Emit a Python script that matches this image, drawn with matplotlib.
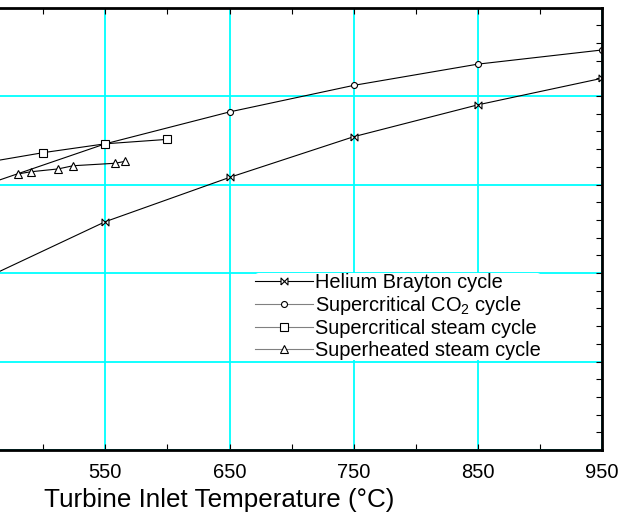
import matplotlib.pyplot as plt
from matplotlib.ticker import MultipleLocator, FixedLocator, FixedFormatter

plt.rcParams['font.family'] = ['Liberation Sans', 'DejaVu Sans']
plt.rcParams['mathtext.default'] = 'regular'

# turbine inlet temperature (C) and cycle efficiency (%)
he_T = [450, 550, 650, 750, 850, 950]
he_eff = [34.6, 37.9, 40.4, 42.7, 44.5, 46.0]

co2_T = [450, 550, 650, 750, 850, 950]
co2_eff = [39.9, 42.3, 44.1, 45.6, 46.8, 47.6]

sc_steam_T = [450, 500, 550, 600]
sc_steam_eff = [41.2, 41.8, 42.3, 42.55]

sh_steam_T = [480, 490, 512, 524, 558, 566]
sh_steam_eff = [40.6, 40.72, 40.88, 41.06, 41.2, 41.31]

labels = ['Helium Brayton cycle', 'Supercritical CO$_2$ cycle',
          'Supercritical steam cycle', 'Superheated steam cycle']

x_ticks = [350, 450, 550, 650, 750, 850, 950]
# the two leftmost labels fall outside the cropped picture
x_ticklabels = ['', '', '550', '650', '750', '850', '950']

bowtie = [(-1, -1), (-1, 1), (1, -1), (1, 1), (-1, -1)]

fig = plt.figure(figsize=(6.19, 5.14), dpi=100)
# the original picture is cropped on the left, so the axes start off-canvas
ax = fig.add_axes([-143 / 619, 64 / 514, 745 / 619, 442.5 / 514])

kw = dict(color='black', lw=0.8, mfc='white', mec='black', mew=0.8)
ax.plot(he_T, he_eff, marker=bowtie, ms=5, label=labels[0], **kw)
ax.plot(co2_T, co2_eff, marker='o', ms=4.3, label=labels[1], **kw)
ax.plot(sc_steam_T, sc_steam_eff, marker='s', ms=6, label=labels[2], **kw)
ax.plot(sh_steam_T, sh_steam_eff, marker='^', ms=6, label=labels[3], **kw)

ax.set_xlim(350, 950)
ax.set_ylim(25, 50)
ax.xaxis.set_major_locator(FixedLocator(x_ticks))
ax.xaxis.set_major_formatter(FixedFormatter(x_ticklabels))
ax.xaxis.set_minor_locator(FixedLocator([400, 500, 600, 700, 800, 900]))
ax.yaxis.set_major_locator(MultipleLocator(5))
ax.yaxis.set_minor_locator(MultipleLocator(1))
ax.grid(True, which='major', color='#00FFFF', lw=1.3)
ax.set_axisbelow(True)

ax.tick_params(axis='x', which='both', direction='in', top=True, length=4,
               width=0.8, labelsize=14.5, pad=9)
ax.tick_params(axis='y', which='both', direction='in', right=True, left=True,
               length=4, width=0.8, labelleft=False)
for s in ax.spines.values():
    s.set_linewidth(2)

ax.set_xlabel('Turbine Inlet Temperature (°C)', fontsize=18.7)
ax.xaxis.set_label_coords((219.5 + 143) / 745, -0.087)

leg = ax.legend(loc='upper left', bbox_to_anchor=(255 / 619, 1 - 272.5 / 514),
                bbox_transform=fig.transFigure, frameon=True, framealpha=1,
                edgecolor='none', facecolor='white', fontsize=14.4,
                handlelength=2.9, handletextpad=0.1, labelspacing=0.12,
                borderpad=0.0, borderaxespad=0)
for i, ln in enumerate(leg.get_lines()):
    if i > 0:
        ln.set_color('#808080')
        ln.set_markeredgecolor('black')

fig.savefig('out.png', dpi=100)
